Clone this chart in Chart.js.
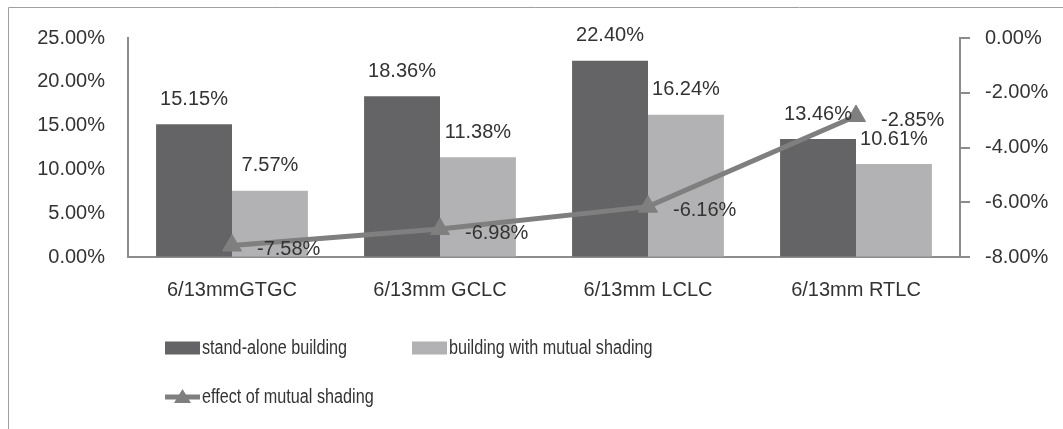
<!DOCTYPE html>
<html>
<head>
<meta charset="utf-8">
<title>mutual shading</title>
<script src="https://cdn.jsdelivr.net/npm/chart.js@4.4.1/dist/chart.umd.min.js"></script>
<style>
    html, body { margin: 0; padding: 0; background: #fff; }
    #wrap { position: relative; width: 1063px; height: 429px; }
</style>
</head>
<body>
<div id="wrap"><canvas id="barChart"></canvas></div>
<script>
var categories = ['6/13mmGTGC', '6/13mm GCLC', '6/13mm LCLC', '6/13mm RTLC'];
var standAlone = [15.15, 18.36, 22.40, 13.46];
var mutualShading = [7.57, 11.38, 16.24, 10.61];
var shadingEffect = [-7.58, -6.98, -6.16, -2.85];
var seriesNames = ['stand-alone building', 'building with mutual shading', 'effect of mutual shading'];

var textColor = '#333333';
var axisColor = '#8c8c8c';

function pct(v) {
    return v.toFixed(2) + '%';
}

// frame around the chart (only top and left edges are visible in the picture)
var framePlugin = {
    id: 'frame',
    beforeDraw: function (chart) {
        var ctx = chart.ctx;
        ctx.save();
        ctx.fillStyle = '#fff';
        ctx.fillRect(0, 0, chart.width, chart.height);
        ctx.strokeStyle = '#a0a0a0';
        ctx.lineWidth = 1;
        ctx.beginPath();
        ctx.moveTo(8.5, chart.height);
        ctx.lineTo(8.5, 7.5);
        ctx.lineTo(chart.width, 7.5);
        ctx.stroke();
        ctx.restore();
    }
};

var labelPlugin = {
    id: 'valueLabels',
    afterDatasetsDraw: function (chart) {
        var ctx = chart.ctx;
        ctx.save();
        ctx.font = '20px "Liberation Sans", Arial, sans-serif';
        ctx.fillStyle = textColor;
        ctx.textBaseline = 'middle';
        chart.data.datasets.forEach(function (ds, i) {
            var meta = chart.getDatasetMeta(i);
            meta.data.forEach(function (el, j) {
                if (ds.type === 'line') {
                    ctx.textAlign = 'left';
                    ctx.fillText(pct(ds.data[j]), el.x + 25, el.y + 4);
                } else {
                    ctx.textAlign = 'center';
                    ctx.fillText(pct(ds.data[j]), el.x, el.y - 25);
                }
            });
        });
        ctx.restore();
    }
};

// two-row legend like the original: bars on the first row, the line below
var legendPlugin = {
    id: 'twoRowLegend',
    afterDraw: function (chart) {
        var ctx = chart.ctx;
        var spots = [[165, 397], [165, 348], [412, 348]];
        ctx.save();
        ctx.font = '20px "Liberation Sans", Arial, sans-serif';
        ctx.textBaseline = 'middle';
        ctx.textAlign = 'left';
        chart.data.datasets.forEach(function (ds, i) {
            var x = spots[i][0];
            var y = spots[i][1];
            if (ds.type === 'line') {
                ctx.strokeStyle = ds.borderColor;
                ctx.lineWidth = 5;
                ctx.beginPath();
                ctx.moveTo(x, y);
                ctx.lineTo(x + 35, y);
                ctx.stroke();
                ctx.fillStyle = ds.borderColor;
                ctx.beginPath();
                ctx.moveTo(x + 17.5, y - 8);
                ctx.lineTo(x + 26, y + 6);
                ctx.lineTo(x + 9, y + 6);
                ctx.closePath();
                ctx.fill();
            } else {
                ctx.fillStyle = ds.backgroundColor;
                ctx.fillRect(x, y - 6.5, 35, 13);
            }
            // the original font is a narrow one, squeeze the text a bit
            ctx.save();
            ctx.translate(x + 37, y);
            ctx.scale(0.81, 1);
            ctx.fillStyle = textColor;
            ctx.fillText(ds.label, 0, 0);
            ctx.restore();
        });
        ctx.restore();
    }
};

Chart.defaults.font.family = '"Liberation Sans", Arial, sans-serif';
Chart.defaults.font.size = 20;
Chart.defaults.color = textColor;

var barChartCanvas = document.getElementById('barChart').getContext('2d');

new Chart(barChartCanvas, {
    data: {
        labels: categories,
        datasets: [
            {
                type: 'line',
                label: seriesNames[2],
                data: shadingEffect,
                yAxisID: 'y1',
                order: 0,
                borderColor: '#7f7f7f',
                backgroundColor: '#7f7f7f',
                borderWidth: 5,
                pointStyle: 'triangle',
                pointRadius: 11,
                pointBorderWidth: 1,
                tension: 0
            },
            {
                type: 'bar',
                label: seriesNames[0],
                data: standAlone,
                yAxisID: 'y',
                order: 1,
                backgroundColor: '#646466',
                categoryPercentage: 0.73,
                barPercentage: 1
            },
            {
                type: 'bar',
                label: seriesNames[1],
                data: mutualShading,
                yAxisID: 'y',
                order: 1,
                backgroundColor: '#b2b2b4',
                categoryPercentage: 0.73,
                barPercentage: 1
            }
        ]
    },
    options: {
        responsive: true,
        maintainAspectRatio: false,
        animation: false,
        layout: { padding: { top: 38, left: 0, right: 0, bottom: 0 } },
        plugins: {
            legend: { display: false },
            tooltip: { enabled: false }
        },
        scales: {
            x: {
                grid: { drawOnChartArea: false, drawTicks: false },
                border: { display: true, color: axisColor, width: 2 },
                ticks: { padding: 21, color: textColor },
                afterFit: function (s) { s.height = 429 - 257; }
            },
            y: {
                position: 'left',
                min: 0,
                max: 25,
                grid: { drawOnChartArea: false, drawTicks: false },
                border: { display: true, color: axisColor, width: 2 },
                ticks: {
                    stepSize: 5,
                    padding: 23,
                    color: textColor,
                    callback: function (v) { return pct(v); }
                },
                afterFit: function (s) { s.width = 128; }
            },
            y1: {
                position: 'right',
                min: -8,
                max: 0,
                grid: { drawOnChartArea: false, drawTicks: true, tickLength: 10, color: axisColor, lineWidth: 2 },
                border: { display: true, color: axisColor, width: 2 },
                ticks: {
                    stepSize: 2,
                    padding: 15,
                    color: textColor,
                    callback: function (v) { return pct(v); }
                },
                afterFit: function (s) { s.width = 1063 - 960; }
            }
        }
    },
    plugins: [framePlugin, labelPlugin, legendPlugin]
});
</script>
</body>
</html>
